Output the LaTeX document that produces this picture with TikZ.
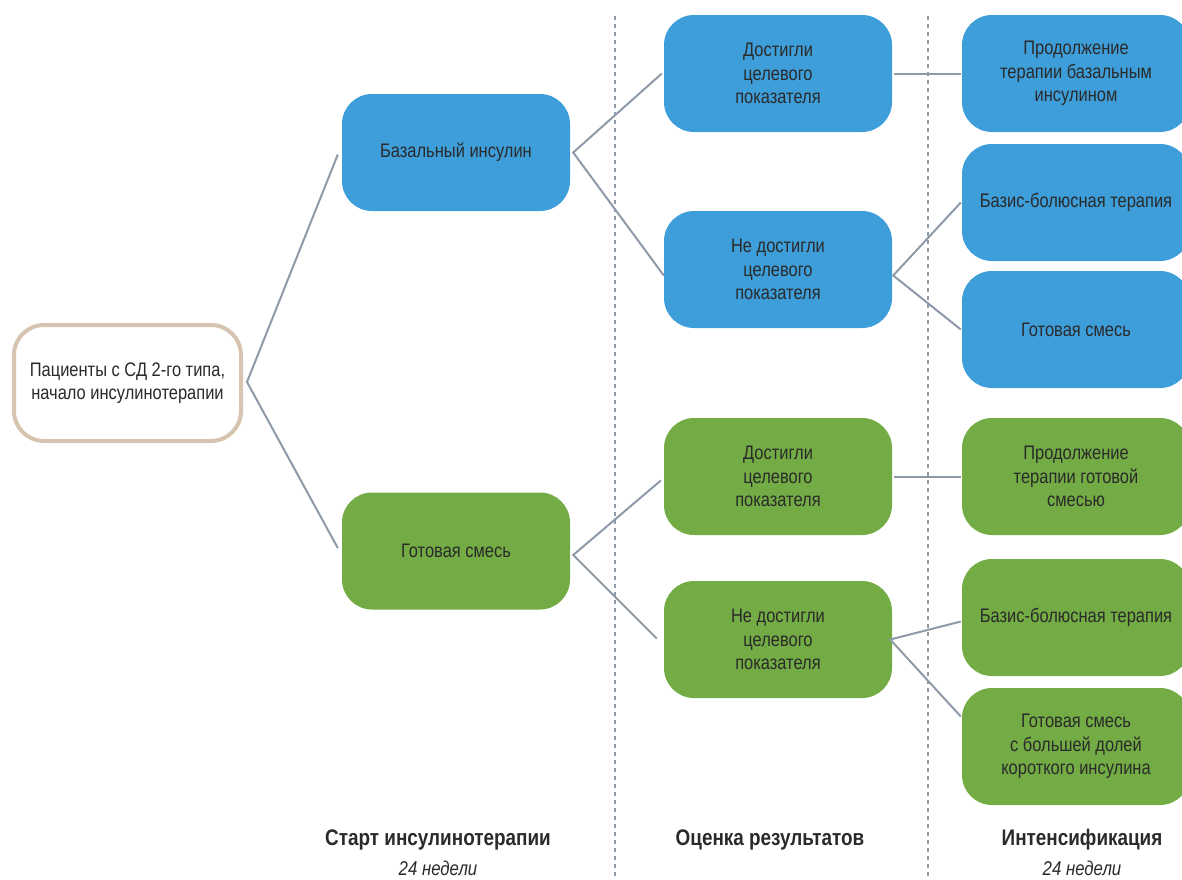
\documentclass[tikz,border=0pt]{standalone}
\usepackage{fontspec}
\setmainfont{Liberation Sans}[FakeStretch=0.84]
\usetikzlibrary{calc}

\definecolor{boxblue}{HTML}{3E9ED9}
\definecolor{boxgreen}{HTML}{73AC44}
\definecolor{boxtan}{HTML}{D6C4B1}
\definecolor{linkgray}{HTML}{8E9AA8}
\definecolor{textdark}{HTML}{2A2A2A}

\begin{document}
\begin{tikzpicture}[x=1pt,y=-1pt,
	box/.style={rounded corners=30pt, minimum width=228pt, minimum height=117pt,
		inner sep=0pt, align=center, text=textdark,
		font=\fontsize{19.6}{23.5}\selectfont},
	bluebox/.style={box, fill=boxblue},
	greenbox/.style={box, fill=boxgreen},
	link/.style={draw=linkgray, line width=2pt},
	divider/.style={draw=linkgray, line width=2pt, dash pattern=on 4pt off 4pt},
	stage/.style={text=textdark, font=\bfseries\fontsize{22.5}{26}\selectfont},
	weeks/.style={text=textdark, font=\itshape\fontsize{20}{24}\selectfont}]
	% fix the page size
	\useasboundingbox (0,0) rectangle (1182,879);
	\clip (0,0) rectangle (1182,879);

	% dotted dividers between the stages
	\draw[divider] (615,16) -- (615,879);
	\draw[divider] (928,16) -- (928,879);

	% start node
	\node[box, draw=boxtan, line width=4pt, fill=white,
		minimum width=227pt, minimum height=116pt] (patients) at (127.5,383)
		{Пациенты с СД 2-го типа,\\начало инсулинотерапии};

	% first column: start of therapy
	\node[bluebox] (basal) at (456,152.5) {Базальный инсулин};
	\node[greenbox] (premix) at (456,551) {Готовая смесь};

	% second column: results
	\node[bluebox] (bluehit) at (778,73.5) {Достигли\\целевого\\показателя};
	\node[bluebox] (bluemiss) at (778,269.5) {Не достигли\\целевого\\показателя};
	\node[greenbox] (greenhit) at (778,476.5) {Достигли\\целевого\\показателя};
	\node[greenbox] (greenmiss) at (778,639.5) {Не достигли\\целевого\\показателя};

	% third column: intensification
	\node[bluebox] (bluekeep) at (1076,73.5) {Продолжение\\терапии базальным\\инсулином};
	\node[bluebox] (bluebb) at (1076,202.5) {Базис-болюсная терапия};
	\node[bluebox] (bluemix) at (1076,329.5) {Готовая смесь};
	\node[greenbox] (greenkeep) at (1076,476.5) {Продолжение\\терапии готовой\\смесью};
	\node[greenbox] (greenbb) at (1076,617.5) {Базис-болюсная терапия};
	\node[greenbox] (greenmix) at (1076,746.5) {Готовая смесь\\с большей долей\\короткого инсулина};

	% connectors
	\draw[link] ($(basal.west)+(-4,2)$) -- ($(patients.east)+(4,-1)$) -- ($(premix.west)+(-4,-3)$);
	\draw[link] ($(bluehit.west)+(-2,0)$) -- ($(basal.east)+(3,0)$) -- ($(bluemiss.west)+(0,6)$);
	\draw[link] ($(greenhit.west)+(-3,4)$) -- ($(premix.east)+(3,4)$) -- ($(greenmiss.west)+(-7,-1)$);
	\draw[link] ($(bluehit.east)+(2,0)$) -- ($(bluekeep.west)+(-1,0)$);
	\draw[link] ($(bluebb.west)+(-1,0)$) -- ($(bluemiss.east)+(1,6)$) -- ($(bluemix.west)+(-1,0)$);
	\draw[link] ($(greenhit.east)+(2,0)$) -- ($(greenkeep.west)+(-1,0)$);
	\draw[link] ($(greenbb.west)+(-1,4)$) -- ($(greenmiss.east)+(-2,0)$) -- ($(greenmix.west)+(-1,-30)$);

	% stage captions
	\node[stage] (start) at (438,840) {Старт инсулинотерапии};
	\node[weeks] (startweeks) at (438,868) {24 недели};
	\node[stage] (review) at (770,840) {Оценка результатов};
	\node[stage] (intens) at (1082,840) {Интенсификация};
	\node[weeks] (intensweeks) at (1082,868) {24 недели};
\end{tikzpicture}
\end{document}
